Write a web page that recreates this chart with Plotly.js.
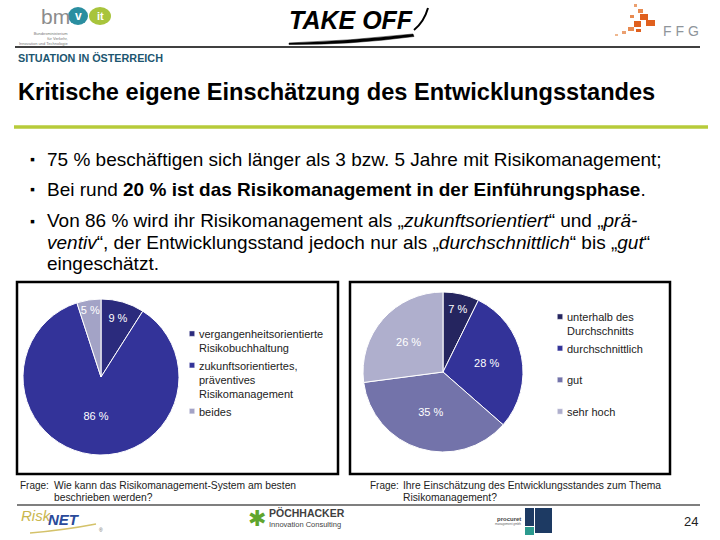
<!DOCTYPE html>
<html><head><meta charset="utf-8">
<script src="https://cdn.plot.ly/plotly-3.0.1.min.js"></script>
<style>html,body{margin:0;padding:0;background:#fff}#chart{width:720px;height:540px}</style>
</head><body><div id="chart"></div>
<script>
// ---- data ----
const leftCategories = ['vergangenheitsorientierte<br>Risikobuchhaltung', 'zukunftsorientiertes,<br>präventives<br>Risikomanagement', 'beides'];
const leftValues = [9, 86, 5];
const rightCategories = ['unterhalb des<br>Durchschnitts', 'durchschnittlich', 'gut', 'sehr hoch'];
const rightValues = [7, 28, 35, 26];
const leftQuestion = ['Wie kann das Risikomanagement-System am besten', 'beschrieben werden?'];
const rightQuestion = ['Ihre Einschätzung des Entwicklungsstandes zum Thema', 'Risikomanagement?'];
const bulletLines = [
  '75 % beschäftigen sich länger als 3 bzw. 5 Jahre mit Risikomanagement;',
  'Bei rund <b>20 % ist das Risikomanagement in der Einführungsphase</b>.',
  'Von 86 % wird ihr Risikomanagement als „<i>zukunftsorientiert</i>“ und „<i>prä-</i>',
  '<i>ventiv</i>“, der Entwicklungsstand jedoch nur als „<i>durchschnittlich</i>“ bis „<i>gut</i>“',
  'eingeschätzt.'
];
const pageNumber = '24';

// ---- helpers ----
const W = 720, H = 540;
const X = px => px / W;
const Y = py => 1 - py / H;
const F = 'Arial, "Liberation Sans", Helvetica, sans-serif';

const leftColors = ['#2b2b7d', '#333399', '#a3a3c6'];
const rightColors = ['#25255f', '#333399', '#7373aa', '#afafcd'];
const rightLegendLabels = rightCategories.map(l => l.includes('<br>') ? l : l + '<br>\u00a0');

const traces = [
  {
    type: 'pie', labels: leftCategories, values: leftValues, sort: false, direction: 'clockwise', rotation: 0,
    domain: {x: [X(23), X(179)], y: [Y(455), Y(299)]},
    marker: {colors: leftColors, line: {color: '#ffffff', width: 1}},
    texttemplate: '%{value} %', textposition: 'inside', insidetextorientation: 'horizontal',
    textfont: {family: F, size: 11, color: '#ffffff'}, hoverinfo: 'none', legend: 'legend'
  },
  {
    type: 'pie', labels: rightLegendLabels, values: rightValues, sort: false, direction: 'clockwise', rotation: 0,
    domain: {x: [X(363), X(523)], y: [Y(452), Y(292)]},
    marker: {colors: rightColors, line: {color: '#ffffff', width: 1}},
    texttemplate: '%{value} %', textposition: 'inside', insidetextorientation: 'horizontal',
    textfont: {family: F, size: 11, color: '#ffffff'}, hoverinfo: 'none', legend: 'legend2'
  }
];

function ann(x, y, text, size, opts) {
  return Object.assign({xref: 'paper', yref: 'paper', x: X(x), y: Y(y), text: text, showarrow: false,
    xanchor: 'left', yanchor: 'middle', align: 'left', font: {family: F, size: size, color: '#000'}}, opts || {});
}
function rect(x0, y0, x1, y1, opts) {
  return Object.assign({type: 'rect', xref: 'paper', yref: 'paper', x0: X(x0), x1: X(x1), y0: Y(y0), y1: Y(y1)}, opts);
}
function line(x0, y0, x1, y1, color, width) {
  return {type: 'line', xref: 'paper', yref: 'paper', x0: X(x0), x1: X(x1), y0: Y(y0), y1: Y(y1), line: {color: color, width: width}};
}
function path(pts, opts) {
  const d = pts.map(p => p[0] + (p.length > 1 ? p.slice(1).map((v, i) => i % 2 === 0 ? X(v) : Y(v)).join(',') : '')).join(' ');
  return Object.assign({type: 'path', xref: 'paper', yref: 'paper', path: d}, opts);
}

const bulletFont = 19;
const bulletY = [159, 189, 221, 242, 263];
const capFont = {family: F, size: 10.3, color: '#222'};
const annotations = [
  // header logos
  ann(39, 16, 'bm', 21, {font: {family: F, size: 21, color: '#8c8c8c'}}),
  ann(78, 16, '<b>v</b>', 12, {xanchor: 'center', font: {family: F, size: 12, color: '#ffffff'}}),
  ann(100, 16, '<b>it</b>', 11, {xanchor: 'center', font: {family: F, size: 11, color: '#ffffff'}}),
  ann(70, 38, 'Bundesministerium<br>für Verkehr,<br>Innovation und Technologie', 4, {xanchor: 'right', align: 'right', font: {family: F, size: 4, color: '#777'}}),
  ann(287, 20, '<b><i>TAKE OFF</i></b>', 25, {font: {family: F, size: 25, color: '#000'}}),
  ann(681, 31, 'F F G', 14, {xanchor: 'center', font: {family: F, size: 14, color: '#8f959b'}}),
  ann(16, 58, '<b>SITUATION IN ÖSTERREICH</b>', 10.8, {font: {family: F, size: 10.8, color: '#1c5670'}}),
  // title
  ann(16, 92, '<b>Kritische eigene Einschätzung des Entwicklungsstandes</b>', 23.6),
  // bullets
  ann(28, 159, '▪', 14), ann(28, 189, '▪', 14), ann(28, 221, '▪', 14),
  // questions
  ann(18, 485, 'Frage:', 10, {font: {family: F, size: 10, color: '#222'}}),
  ann(368, 485, 'Frage:', 10, {font: {family: F, size: 10, color: '#222'}}),
  // footer logos
  ann(19, 515, '<i>Risk</i>', 15, {font: {family: F, size: 15, color: '#c9b64e'}}),
  ann(46, 519, '<b><i>NET</i></b>', 15, {font: {family: F, size: 15, color: '#2a4a9a'}}),
  ann(101, 530, '®', 5, {xanchor: 'center', font: {family: F, size: 5, color: '#666'}}),
  ann(257, 518, '✱', 22, {xanchor: 'center', font: {family: '"DejaVu Sans", sans-serif', size: 22, color: '#5fa52e'}}),
  ann(267, 513, '<b>PÖCHHACKER</b>', 10.5, {font: {family: F, size: 10.5, color: '#3f3f3f'}}),
  ann(267, 524, 'Innovation Consulting', 7.5, {font: {family: F, size: 7.5, color: '#444'}}),
  ann(523, 519, '<b>procuret</b>', 6, {xanchor: 'right', font: {family: F, size: 6, color: '#444'}}),
  ann(523, 524, 'management gmbh', 3, {xanchor: 'right', font: {family: F, size: 3, color: '#666'}}),
  ann(691, 521, pageNumber, 13, {xanchor: 'center', font: {family: F, size: 13, color: '#222'}})
];
bulletLines.forEach((t, i) => annotations.push(ann(45, bulletY[i], t, bulletFont)));
leftQuestion.forEach((t, i) => annotations.push(ann(52, 485 + 12 * i, t, 10.3, {font: capFont})));
rightQuestion.forEach((t, i) => annotations.push(ann(401, 485 + 12 * i, t, 10.3, {font: capFont})));

const orange = '#e0601e';
const shapes = [
  line(15, 47, 700, 47, '#000', 1.5),
  line(14, 127, 708, 127, '#b7cb3a', 3.5),
  line(17, 505, 700, 505, '#000', 1.2),
  rect(17, 282, 338, 474, {line: {color: '#000', width: 2.5}}),
  rect(350, 282, 670, 474, {line: {color: '#000', width: 2.5}}),
  {type: 'circle', xref: 'paper', yref: 'paper', x0: X(68), x1: X(88), y0: Y(25), y1: Y(7), fillcolor: '#2a8ea0', line: {width: 0}, layer: 'below'},
  {type: 'circle', xref: 'paper', yref: 'paper', x0: X(89), x1: X(111), y0: Y(25), y1: Y(7), fillcolor: '#a8c43c', line: {width: 0}, layer: 'below'},
  path([['M', 289, 43], ['Q', 350, 41, 413, 34], ['L', 414, 36.5], ['Q', 350, 45, 289, 44.5], ['Z']], {fillcolor: '#000', line: {color: '#000', width: 0.5}}),
  path([['M', 414, 30], ['Q', 424, 22, 428, 8]], {line: {color: '#000', width: 2}}),
  rect(640, 14, 648, 20, {fillcolor: orange, line: {width: 0}}),
  rect(646, 20, 655, 26, {fillcolor: orange, line: {width: 0}}),
  rect(634, 21, 641, 27, {fillcolor: orange, line: {width: 0}}),
  rect(638, 9, 643, 13, {fillcolor: '#e88a50', line: {width: 0}}),
  rect(628, 27, 634, 31, {fillcolor: '#e88a50', line: {width: 0}}),
  rect(636, 29, 641, 32, {fillcolor: orange, line: {width: 0}}),
  rect(622, 31, 626, 34, {fillcolor: '#eba070', line: {width: 0}}),
  rect(615, 34, 618, 36, {fillcolor: '#efb890', line: {width: 0}}),
  rect(634, 4, 637, 7, {fillcolor: '#eba070', line: {width: 0}}),
  rect(630, 15, 634, 18, {fillcolor: '#e88a50', line: {width: 0}}),
  path([['M', 30, 533], ['Q', 65, 530, 96, 524]], {line: {color: '#d4c26a', width: 1.5}}),
  rect(525, 508, 534, 526, {fillcolor: '#1d3a63', line: {width: 0}}),
  rect(535, 508, 552, 533, {fillcolor: '#1d3a63', line: {width: 0}}),
  rect(525, 527, 534, 535, {fillcolor: '#2b9a8e', line: {width: 0}})
];

const legendBase = {bgcolor: 'rgba(0,0,0,0)', borderwidth: 0, valign: 'top', xanchor: 'left', yanchor: 'top',
  font: {family: F, size: 11, color: '#222'}, tracegroupgap: 0};

const layout = {
  width: W, height: H, margin: {l: 0, r: 0, t: 0, b: 0}, paper_bgcolor: '#fff', plot_bgcolor: '#fff',
  showlegend: true,
  legend: Object.assign({}, legendBase, {x: X(159), y: Y(320)}),
  legend2: Object.assign({}, legendBase, {x: X(527), y: Y(303)}),
  uniformtext: {mode: 'show', minsize: 11},
  annotations: annotations, shapes: shapes
};

Plotly.newPlot('chart', traces, layout, {displayModeBar: false, staticPlot: true}).then(gd => {
  // smaller legend swatches placed close to the text, like the original slide
  gd.querySelectorAll('g.legendpoints path').forEach(p => {
    const t = p.getAttribute('transform') || '';
    const m = t.match(/translate\(([-\d.]+)[ ,]*([-\d.]+)?\)/);
    const ty = m && m[2] ? parseFloat(m[2]) : 0;
    p.setAttribute('transform', 'translate(33,' + ty + ') scale(0.45)');
  });
});
</script></body></html>
